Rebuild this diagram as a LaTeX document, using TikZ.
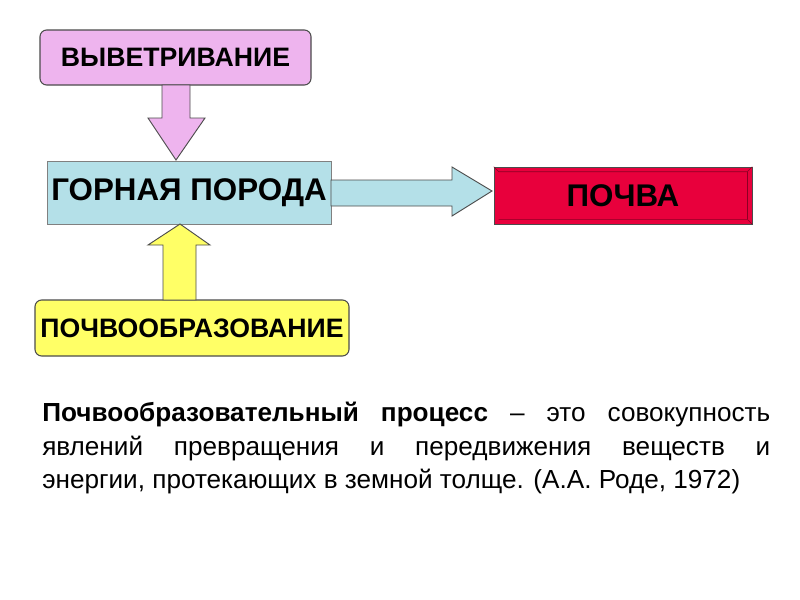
\documentclass[tikz,border=0pt]{standalone}
\usepackage{fontspec}
\setmainfont{Liberation Sans}
\definecolor{vio}{HTML}{EEB4EE}
\definecolor{cya}{HTML}{B4E0E8}
\definecolor{yel}{HTML}{FFFF66}
\definecolor{rd}{HTML}{E8003C}
\tikzset{lbl/.style={draw=black!70,line width=0.8pt,rounded corners=5pt,inner sep=1pt,font=\bfseries\fontsize{20}{24}\selectfont},
arr/.style={draw=black!70,line width=0.7pt}}
\begin{document}
\begin{tikzpicture}[x=0.75pt,y=-0.75pt]
\fill[white] (0,0) rectangle (800,600);
\node[lbl,fill=vio,minimum width=271*0.75pt,minimum height=55*0.75pt] (w) at (175.5,57.5) {ВЫВЕТРИВАНИЕ};
\node[draw=black!50,fill=cya,inner sep=1pt,minimum width=284*0.75pt,minimum height=63*0.75pt,font=\bfseries\fontsize{23.5}{28}\selectfont] (g) at (189,192.5) {ГОРНАЯ ПОРОДА};
\node[lbl,fill=yel,minimum width=314*0.75pt,minimum height=56*0.75pt] (p) at (192,328) {ПОЧВООБРАЗОВАНИЕ};
\node[draw=black!70,fill=rd,minimum width=258*0.75pt,minimum height=57*0.75pt,font=\bfseries\fontsize{23.5}{28}\selectfont] (s) at (623,195.5) {\raisebox{-2pt}{ПОЧВА}};
\draw[rd!60!black] (s.north west)--++(5,5)--([xshift=-3.75pt,yshift=-3.75pt]s.north east)--(s.north east);
\draw[rd!60!black] ([xshift=3.75pt,yshift=3.75pt]s.south west)--([xshift=-3.75pt,yshift=3.75pt]s.south east)--(s.south east);
\draw[rd!60!black] ([xshift=-3.75pt,yshift=-3.75pt]s.north east)--([xshift=-3.75pt,yshift=3.75pt]s.south east);
\draw[arr,fill=vio] (162,85)--(190,85)--(190,118)--(205,118)--(176,160)--(148,118)--(162,118)--cycle;
\draw[arr,fill=yel] (163,300)--(196,300)--(196,245)--(210,245)--(180,224)--(148,245)--(163,245)--cycle;
\draw[arr,fill=cya] (331,180)--(452,180)--(452,167)--(492,191)--(452,216)--(452,206)--(331,206)--cycle;
\node[anchor=north west,text width=546pt,align=justify,inner sep=0pt,font=\fontsize{19.6}{25}\selectfont] (t) at (42,402) {\textbf{Почвообразовательный процесс} – это совокупность\linebreak явлений превращения и передвижения веществ и\linebreak энергии, протекающих в земной толще. (А.А. Роде, 1972)};
\end{tikzpicture}
\end{document}
